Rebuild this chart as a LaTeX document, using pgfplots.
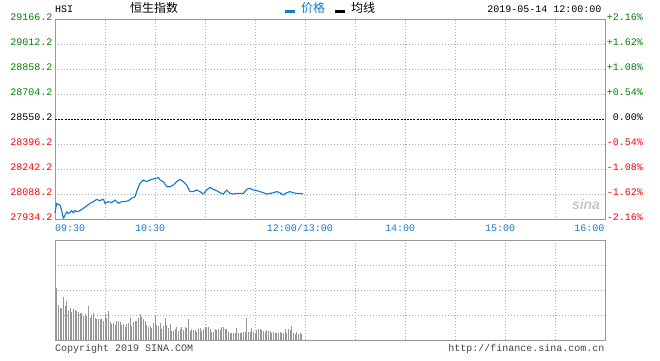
\documentclass[border=0pt]{standalone}
\usepackage{fontspec}
\setmainfont{Liberation Mono}
\newfontfamily\cjk{Noto Sans CJK SC}
\newfontfamily\sansf{Liberation Sans}
\usepackage{pgfplots}
\usepackage{pgfplotstable}
\pgfplotsset{compat=1.18}
\definecolor{pgreen}{RGB}{0,128,0}
\definecolor{pred}{RGB}{255,0,0}
\definecolor{pblue}{RGB}{14,122,205}
\definecolor{tblue}{RGB}{20,122,200}
\definecolor{bordergray}{RGB}{153,153,153}
\definecolor{gridgray}{RGB}{170,170,170}
\definecolor{volgray}{RGB}{150,150,150}
\definecolor{footgray}{RGB}{70,70,70}

\pgfplotstableread{
m v
0 27975
1 28034
2 28028
3 28023
4 27990
5 27941
6 27962
7 27982
8 27970
9 27978
10 27989
11 27975
12 27990
13 27982
15 27989
17 28003
19 28017
21 28034
23 28044
25 28058
27 28050
29 28060
30 28034
32 28044
34 28038
36 28054
38 28034
40 28044
42 28044
44 28050
46 28065
48 28075
49 28106
51 28157
53 28178
55 28167
57 28178
59 28184
61 28188
62 28194
63 28178
65 28167
67 28136
69 28136
71 28147
73 28167
75 28182
77 28167
79 28147
81 28106
83 28106
85 28116
87 28106
89 28091
91 28116
93 28132
95 28120
97 28112
99 28099
101 28091
103 28116
105 28095
107 28091
109 28095
111 28095
113 28095
115 28120
117 28126
119 28116
121 28112
123 28106
125 28099
127 28091
129 28095
131 28099
133 28106
135 28099
137 28085
139 28099
141 28106
143 28099
145 28095
147 28095
149 28091
}\price

\pgfplotstableread{
m h
1 52.3
2 35
3 31.7
4 31.7
5 43.3
6 34
7 39
8 29.3
9 31.7
10 28.3
11 30.7
12 30
13 29
14 28.3
15 27.3
16 26.7
17 24
18 26
19 24
20 34
21 22.3
22 24
23 26.7
24 21.7
25 20.7
26 20.7
27 20.7
28 20.7
29 19.3
30 26
31 21.7
32 29
33 18.3
34 15.7
35 16.7
36 15
37 19
38 19
39 18.3
40 15
41 16
42 13.3
43 15.7
44 17.3
45 21.7
46 14.3
47 18.3
48 19
49 19
50 21.7
51 26
52 22.7
53 20.7
54 19
55 15
56 13.3
57 14
58 12.3
59 17.3
60 25
61 15
62 14
63 16.7
64 11
65 14.3
66 21.7
67 15
68 12.3
69 15.7
70 9.3
71 9.3
72 10.7
73 13.3
74 9.3
75 10.7
76 12.7
77 10
78 12.7
79 11.7
80 20.7
81 9.3
82 10.7
83 10
84 10
85 8.3
86 10.7
87 11.7
88 9.3
89 10.7
90 11.7
91 12.7
92 12.7
93 10.7
94 8.3
95 8.3
96 10.7
97 10
98 10.7
99 10
100 12.7
101 12.7
102 10.7
103 10.7
104 8.3
105 7.3
106 7.3
107 7.3
108 6.7
109 11.7
110 6.7
111 7.3
112 7.3
113 8.3
114 8.3
115 22.3
116 8.3
117 8.3
118 12.3
119 8.3
120 6.7
121 10
122 10.7
123 10.7
124 10
125 9.3
126 8.3
127 10
128 9.3
129 9.3
130 7.3
131 8.3
132 6.7
133 6.7
134 7.3
135 8.3
136 7.3
137 7.3
138 11
139 7.3
140 11
141 10
142 14
143 6.7
144 6
145 8.3
146 6
147 7.3
148 6
}\vol

\pgfplotsset{
  panel/.style={
    scale only axis, anchor=south west, width=550bp,
    xmin=0, xmax=330, xtick={30,60,...,300},
    scaled ticks=false,
    xticklabels={}, yticklabels={}, major tick length=0pt,
    grid=major,
    major grid style={gridgray, line width=0.8bp, dash pattern=on 1bp off 2bp},
    axis line style={bordergray, line width=1bp},
    clip=false,
  }
}

\begin{document}
\begin{tikzpicture}[x=1bp, y=1bp, font=\fontsize{10bp}{12bp}\selectfont]
\path[use as bounding box] (0,0) rectangle (660,360);

% watermark
\node[anchor=base, inner sep=0pt, text=black!22, font=\sansf\bfseries\itshape\fontsize{14bp}{16bp}\selectfont] at (586,151) {sina};

\begin{axis}[panel, at={(55bp,140.5bp)}, height=200bp,
  ymin=27934.2, ymax=29166.2,
  ytick={28088.2,28242.2,28396.2,28704.2,28858.2,29012.2}]
  \addplot[black, line width=0.9bp, dash pattern=on 2bp off 1.2bp] coordinates {(0,28550.2) (330,28550.2)};
  \addplot[pblue, line width=1.1bp, line join=round] table[x=m, y=v] {\price};
\end{axis}

\begin{axis}[panel, at={(55bp,20bp)}, height=100bp,
  ymin=0, ymax=100, ytick={25,50,75}]
  \addplot[ycomb, volgray, line width=1bp] table[x=m, y=h] {\vol};
\end{axis}

% left price labels
\foreach \a/\b [count=\k from 0] in {29166.2/pgreen, 29012.2/pgreen, 28858.2/pgreen, 28704.2/pgreen, 28550.2/black, 28396.2/pred, 28242.2/pred, 28088.2/pred, 27934.2/pred}
  \node[anchor=base east, inner sep=0pt, text=\b] at (52.5, {339.5-25*\k}) {\a};
% right percent labels
\foreach \a/\b [count=\k from 0] in {+2.16\%/pgreen, +1.62\%/pgreen, +1.08\%/pgreen, +0.54\%/pgreen, 0.00\%/black, -0.54\%/pred, -1.08\%/pred, -1.62\%/pred, -2.16\%/pred}
  \node[anchor=base east, inner sep=0pt, text=\b] at (643, {339.5-25*\k}) {\a};

% time labels
\node[anchor=base west, inner sep=0pt, text=tblue] at (55,129) {09:30};
\node[anchor=base, inner sep=0pt, text=tblue] at (150,129) {10:30};
\node[anchor=base, inner sep=0pt, text=tblue] at (300,129) {12:00/13:00};
\node[anchor=base, inner sep=0pt, text=tblue] at (400,129) {14:00};
\node[anchor=base, inner sep=0pt, text=tblue] at (500,129) {15:00};
\node[anchor=base east, inner sep=0pt, text=tblue] at (604.5,129) {16:00};

% header
\node[anchor=base west, inner sep=0pt] at (55,347.5) {HSI};
\node[anchor=base west, inner sep=0pt, font=\cjk\fontsize{12bp}{14bp}\selectfont] at (130,347.5) {恒生指数};
\fill[pblue] (285,346.5) rectangle (295,349.5);
\node[anchor=base west, inner sep=0pt, text=pblue, font=\cjk\fontsize{12bp}{14bp}\selectfont] at (301,347.5) {价格};
\fill[black] (335,346.5) rectangle (345,349.5);
\node[anchor=base west, inner sep=0pt, font=\cjk\fontsize{12bp}{14bp}\selectfont] at (351,347.5) {均线};
\node[anchor=base east, inner sep=0pt] at (601.5,347.5) {2019-05-14 12:00:00};

% footer
\node[anchor=base west, inner sep=0pt, text=footgray] at (55,9) {Copyright 2019 SINA.COM};
\node[anchor=base east, inner sep=0pt, text=footgray] at (604.5,9) {http://finance.sina.com.cn};
\end{tikzpicture}
\end{document}
